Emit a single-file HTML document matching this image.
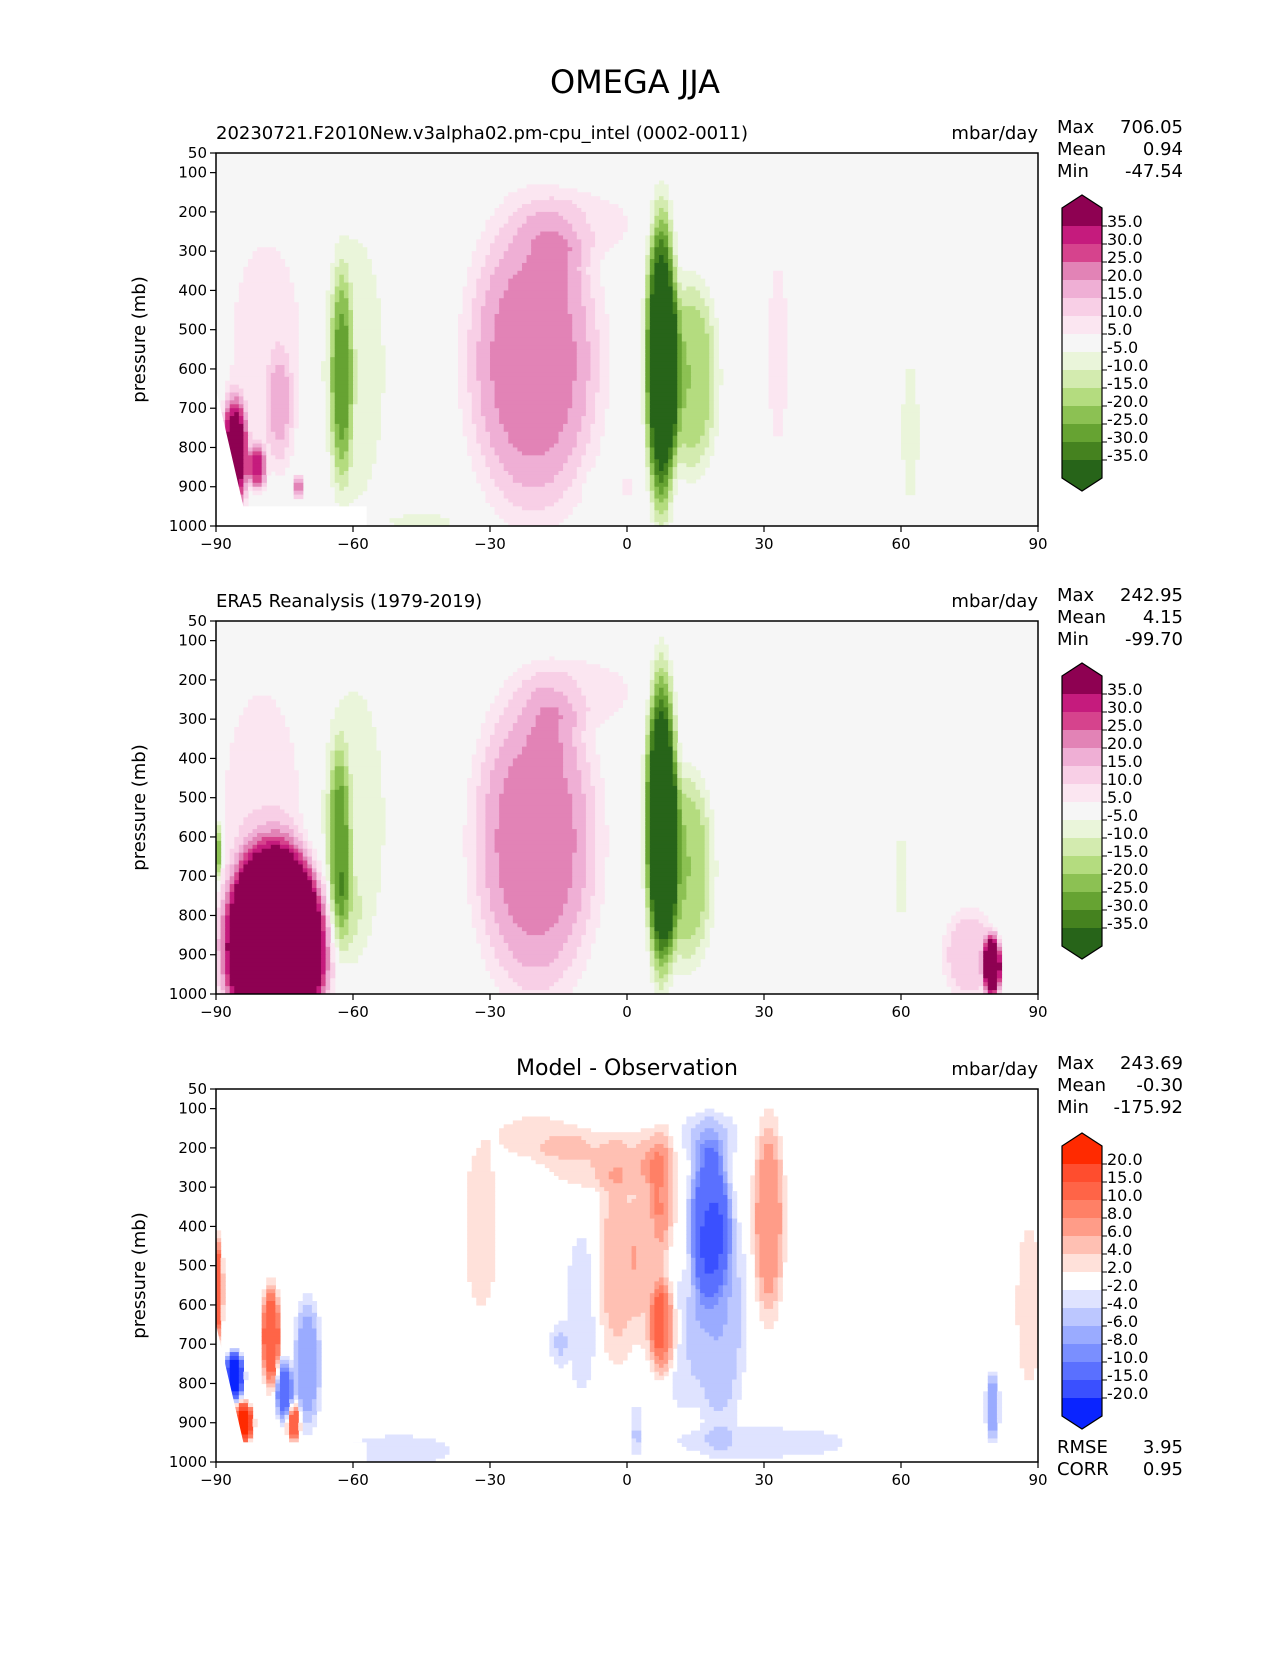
<!DOCTYPE html>
<html><head><meta charset="utf-8"><style>
body{margin:0;background:#fff;}
svg text{font-family:"DejaVu Sans","Liberation Sans",sans-serif;fill:#000;}
</style></head><body>
<svg id="fig" width="1275" height="1650" viewBox="0 0 1275 1650" xmlns="http://www.w3.org/2000/svg">
<rect width="1275" height="1650" fill="#fff"/>
<text x="635" y="93" font-size="32" text-anchor="middle">OMEGA JJA</text>
</svg>
<script>
// ---- data ----
const lonTicks = [-90,-60,-30,0,30,60,90];
const lonTickLabels = ["\u221290","\u221260","\u221230","0","30","60","90"];
const presTicks = [50,100,200,300,400,500,600,700,800,900,1000];
const piygLevels = [35,30,25,20,15,10,5,-5,-10,-15,-20,-25,-30,-35];
const piygColors = ["#8e0152","#c51b7d","#d6438d","#e283b6","#efafd5","#f8cfe6","#fbe6f1","#f6f6f6","#eaf5da","#d3ebaf","#b4dc7f","#8cc153","#66a332","#45821f","#276419"];
const diffLevels = [20,15,10,8,6,4,2,-2,-4,-6,-8,-10,-15,-20];
const diffColors = ["#ff2a00","#ff4d2e","#ff6447","#ff8066","#ff9c88","#ffc0b3","#ffe1da","#ffffff","#dfe3ff","#bcc7ff","#9aabff","#7a8fff","#5a70ff","#3a50ff","#0a24ff"];
// features: lon center, pressure center, amplitude, lon half-width, pressure half-width
const modelLon = [-20.5,-15,-10,7.5,14,-62.5,-60,-79,-86,-81,-72,33,62,-45,0,-8,-76];
const modelPres = [580,330,230,580,620,620,600,560,820,850,900,560,760,990,900,920,700];
const modelAmp = [23,3,7,-46,-20,-20,-8,8,40,28,24,6,-6,-6,7,-6,10];
const modelWl = [15,6,13,3.5,6,2.5,8,9,3,2,1,3,2.5,10,1,1.5,3];
const modelWp = [400,80,90,380,250,270,400,330,150,60,30,340,260,30,30,60,150];
const obsLon = [-20,-16,-10,7.5,13,-63,-60,-77,-80,-90,80,75,45,60,-62];
const obsPres = [610,330,230,560,680,620,560,880,520,640,930,900,800,700,800];
const obsAmp = [23,3,7,-48,-20,-20,-8,80,9,-25,45,14,5,-6,-6];
const obsWl = [14,6,13,3.5,6,2.5,8,11,9,1.2,2,6,2,2,4];
const obsWp = [400,80,90,380,250,250,400,250,320,80,80,120,150,150,120];
const diffLon = [-5,-20,-32,-2,8,8,31,18,20,18,-10,-15,-90,-86,-84,-78,-75,-70,-73,-50,80,88,30,2,5,12];
const diffPres = [230,170,400,500,300,660,380,380,620,170,620,700,560,780,900,680,820,750,900,970,860,600,950,920,450,700];
const diffAmp = [4,3,3.5,5,5,10,8,-12,-6,-4,-3,-4,14,-25,25,14,-12,-8,14,-4,-8,3.5,-3,-4,4,-3];
const diffWl = [14,10,4,5,3,3,3.5,4.5,6,7,4,2,1.5,2,2,2,2,3,1.5,12,1.5,3,22,1.5,4,4];
const diffWp = [80,60,230,260,160,120,260,200,320,70,240,60,130,60,50,130,80,170,50,40,90,220,45,70,300,200];

const panels = [
 {name:"model",top:153,title:"20230721.F2010New.v3alpha02.pm-cpu_intel (0002-0011)",center:false,
  stats:[["Max","706.05"],["Mean","0.94"],["Min","-47.54"]],lon:modelLon,pres:modelPres,amp:modelAmp,wl:modelWl,wp:modelWp,
  levels:piygLevels,colors:piygColors,bg:"#f6f6f6",mask:true,cbTop:195},
 {name:"observation",top:621,title:"ERA5 Reanalysis (1979-2019)",center:false,
  stats:[["Max","242.95"],["Mean","4.15"],["Min","-99.70"]],lon:obsLon,pres:obsPres,amp:obsAmp,wl:obsWl,wp:obsWp,
  levels:piygLevels,colors:piygColors,bg:"#f6f6f6",mask:false,cbTop:663},
 {name:"difference",top:1089,title:"Model - Observation",center:true,
  stats:[["Max","243.69"],["Mean","-0.30"],["Min","-175.92"]],lon:diffLon,pres:diffPres,amp:diffAmp,wl:diffWl,wp:diffWp,
  levels:diffLevels,colors:diffColors,bg:"#ffffff",mask:true,cbTop:1133}
];
const NS="http://www.w3.org/2000/svg";
const fig=document.getElementById('fig');
function mk(tag,attrs,parent){const e=document.createElementNS(NS,tag);for(const k in attrs)e.setAttribute(k,attrs[k]);(parent||fig).appendChild(e);return e;}
const X0=216,X1=1038,H=373;
function xs(lon){return X0+(lon+90)/180*(X1-X0);}
panels.forEach((P,pi)=>{
  const T=P.top;
  const ys=p=>T+(p-50)/950*H;
  const g=mk('g',{});
  
  
  const clipId='clip'+pi;
  const cp=mk('clipPath',{id:clipId},g);mk('rect',{x:X0,y:T,width:X1-X0,height:H},cp);
  mk('rect',{x:X0,y:T,width:X1-X0,height:H,fill:P.bg},g);
  const field=mk('g',{'clip-path':'url(#'+clipId+')'},g);
  
  
  const dl=1.0,dp=10;
  function val(lon,p){let v=0;for(let i=0;i<P.lon.length;i++){const a=(lon-P.lon[i])/P.wl[i],b=(p-P.pres[i])/P.wp[i];const r2=a*a+b*b;v+=P.amp[i]*Math.exp(-r2*r2);}return v;}
  function idx(v){let c=0;for(const b of P.levels)if(v<b)c++;return c;}
  const bgIdx=P.colors.indexOf(P.bg);
  for(let p=50;p<1000;p+=dp){
    let runStart=-90,runIdx=null;
    for(let lon=-90;lon<=90;lon+=dl){
      const k=lon<90?idx(val(lon+dl/2,p+dp/2)):-1;
      if(k!==runIdx){
        if(runIdx!==null&&runIdx!==bgIdx){
          mk('rect',{x:xs(runStart),y:ys(p),width:xs(lon)-xs(runStart)+0.6,height:ys(p+dp)-ys(p)+0.6,fill:P.colors[runIdx]},field);
        }
        runStart=lon;runIdx=k;
      }
    }
  }
  if(P.mask){
    const pts=[[-90,650],[-84,950],[-57,950],[-57,1000],[-90,1000]].map(q=>xs(q[0])+','+ys(q[1])).join(' ');
    const m=mk('polygon',{points:pts,fill:'#fff'},g);
    
    
  }
  const fr=mk('rect',{x:X0,y:T,width:X1-X0,height:H,fill:'none',stroke:'#000','stroke-width':1.5},g);
  
  
  presTicks.forEach(pv=>{
    const y=ys(pv);
    mk('line',{x1:X0-6,x2:X0,y1:y,y2:y,stroke:'#000','stroke-width':1.2},g);
    const t=mk('text',{x:X0-9,y:y+5,'font-size':15,'text-anchor':'end'},g);t.textContent=pv;
    
    
  });
  lonTicks.forEach((lv,i)=>{
    const x=xs(lv);
    mk('line',{x1:x,x2:x,y1:T+H,y2:T+H+6,stroke:'#000','stroke-width':1.2},g);
    const t=mk('text',{x:x,y:T+H+23,'font-size':15,'text-anchor':'middle'},g);t.textContent=lonTickLabels[i];
    
    
  });
  const yl=mk('text',{x:0,y:0,'font-size':18,'text-anchor':'middle',transform:'translate(145,'+(T+H/2)+') rotate(-90)'},g);
  yl.textContent='pressure (mb)';
  
  
  const tt=P.center?mk('text',{x:627,y:T-14,'font-size':22,'text-anchor':'middle'},g):mk('text',{x:X0,y:T-14,'font-size':18},g);
  tt.textContent=P.title;
  
  
  const un=mk('text',{x:X1,y:T-14,'font-size':18,'text-anchor':'end'},g);un.textContent='mbar/day';
  
  
  P.stats.forEach((s,i)=>{
    const y=T-20+i*22;
    const a=mk('text',{x:1057,y:y,'font-size':18},g);a.textContent=s[0];
    
    
    const b=mk('text',{x:1183,y:y,'font-size':18,'text-anchor':'end'},g);b.textContent=s[1];
    
    
  });
  const cb=mk('g',{},g);
  
  
  const cx0=1062,cx1=1102,ct=P.cbTop,r0=ct+13,bh=18,n=P.colors.length;
  mk('polygon',{points:`${cx0},${r0} ${(cx0+cx1)/2},${ct} ${cx1},${r0}`,fill:P.colors[0]},cb);
  P.colors.forEach((c,i)=>mk('rect',{x:cx0,y:r0+i*bh,width:cx1-cx0,height:bh+0.5,fill:c},cb));
  const rb=r0+n*bh;
  mk('polygon',{points:`${cx0},${rb} ${(cx0+cx1)/2},${rb+13} ${cx1},${rb}`,fill:P.colors[n-1]},cb);
  mk('polygon',{points:`${cx0},${r0} ${(cx0+cx1)/2},${ct} ${cx1},${r0} ${cx1},${rb} ${(cx0+cx1)/2},${rb+13} ${cx0},${rb}`,fill:'none',stroke:'#000','stroke-width':1.2},cb);
  P.levels.forEach((lv,i)=>{
    const y=r0+(i+1)*bh;
    mk('line',{x1:cx1,x2:cx1+5,y1:y,y2:y,stroke:'#000','stroke-width':1},cb);
    const t=mk('text',{x:cx1+5,y:y+1,'font-size':16},cb);t.textContent=lv.toFixed(1);
    
    
  });
});
[["RMSE","3.95",1453],["CORR","0.95",1475]].forEach(s=>{
  const a=mk('text',{x:1057,y:s[2],'font-size':18});a.textContent=s[0];
  
  
  const b=mk('text',{x:1183,y:s[2],'font-size':18,'text-anchor':'end'});b.textContent=s[1];
  
  
});
</script>
</body></html>
